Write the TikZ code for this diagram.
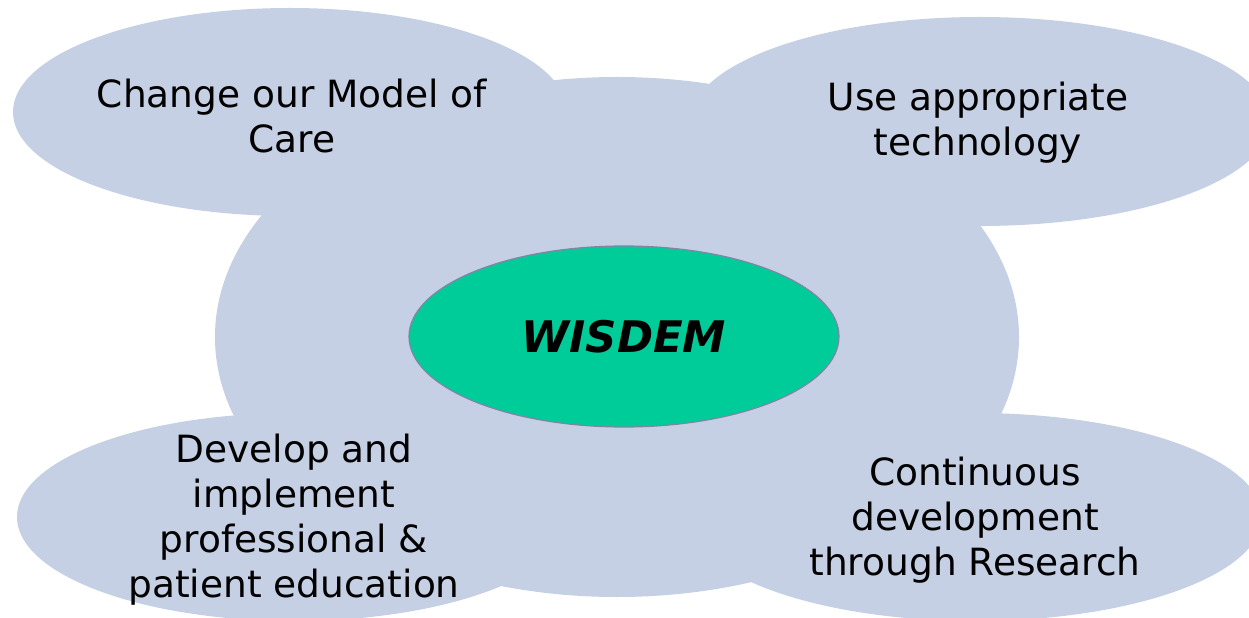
\documentclass[tikz,border=0pt]{standalone}
\usepackage{fontspec}
\setmainfont{DejaVu Sans}
\usetikzlibrary{shapes.geometric}
\definecolor{cloudblue}{HTML}{C5D0E4}
\definecolor{wgreen}{HTML}{00CC99}
\definecolor{wborder}{HTML}{8383A8}
\tikzset{
  blob/.style={ellipse, fill=cloudblue, draw=none, inner sep=0pt},
  lbl/.style={align=center, inner sep=0pt, font=\fontsize{37.5bp}{45bp}\selectfont, text=black},
  core/.style={ellipse, fill=wgreen, draw=wborder, line width=1.2bp, inner sep=0pt,
    minimum width=430bp, minimum height=181bp,
    font=\fontsize{43.5bp}{50bp}\selectfont\bfseries\itshape}
}
\begin{document}
\begin{tikzpicture}[x=1bp,y=-1bp]
\useasboundingbox (0,0) rectangle (1249,618);
\node[blob, minimum width=804bp, minimum height=520bp] (mid) at (617,337) {};
\node[blob, minimum width=554bp, minimum height=208bp] (tl) at (290,112) {};
\node[blob, minimum width=580bp, minimum height=209bp] (tr) at (980,121.5) {};
\node[blob, minimum width=554bp, minimum height=208bp] (bl) at (294,517) {};
\node[blob, minimum width=574bp, minimum height=208bp] (br) at (975,517) {};
\node[lbl] (tltext) at (292,116) {Change our Model of\\Care};
\node[lbl] (trtext) at (978,123) {Use appropriate\\technology};
\node[lbl] (bltext) at (294,520) {Develop and\\implement\\professional \&\\patient education};
\node[lbl] (brtext) at (975,520) {Continuous\\development\\through Research};
\node[core] (wisdem) at (624,336.5) {WISDEM};
\end{tikzpicture}
\end{document}
